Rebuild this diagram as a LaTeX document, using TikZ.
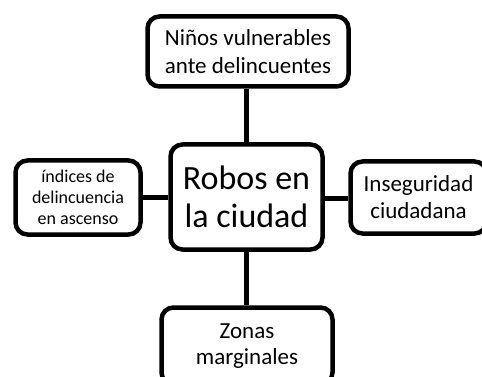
\documentclass[tikz,border=0pt]{standalone}
\usepackage{fontspec}
\setmainfont{Carlito}
\begin{document}
\begin{tikzpicture}[x=1pt,y=-1pt,
  box/.style={draw=black, line width=4.5pt, rounded corners=12pt, fill=white,
    inner sep=0pt, align=center, text=black},
  link/.style={draw=black, line width=4.5pt}]
\useasboundingbox (0,0) rectangle (482,377);
\begin{scope}
\clip (0,0) rectangle (482,377);
\node[box, minimum width=201pt, minimum height=70pt, font=\fontsize{23}{28}\selectfont] (top) at (248,51.5) {Niños vulnerables\\ante delincuentes};
\node[box, minimum width=152pt, minimum height=105pt, font=\fontsize{34}{38}\selectfont] (center) at (246.5,197) {Robos en\\la ciudad};
\node[box, minimum width=125pt, minimum height=74pt, font=\fontsize{18}{21}\selectfont] (left) at (78,197.5) {índices de\\delincuencia\\en ascenso};
\node[box, minimum width=136pt, minimum height=72pt, font=\fontsize{23}{27}\selectfont] (right) at (418.5,197.5) {Inseguridad\\ciudadana};
\node[box, minimum width=171pt, minimum height=77pt, font=\fontsize{23}{26}\selectfont] (bottom) at (247,346) {Zonas\\marginales};
\draw[link] (center.north) -- (center.north |- top.south);
\draw[link] (center.south) -- (center.south |- bottom.north);
\draw[link] (left.east) -- (left.east -| center.west);
\draw[link] ([yshift=-1.5pt]center.east) -- ([yshift=-1.5pt]center.east -| right.west);
\end{scope}
\end{tikzpicture}
\end{document}
